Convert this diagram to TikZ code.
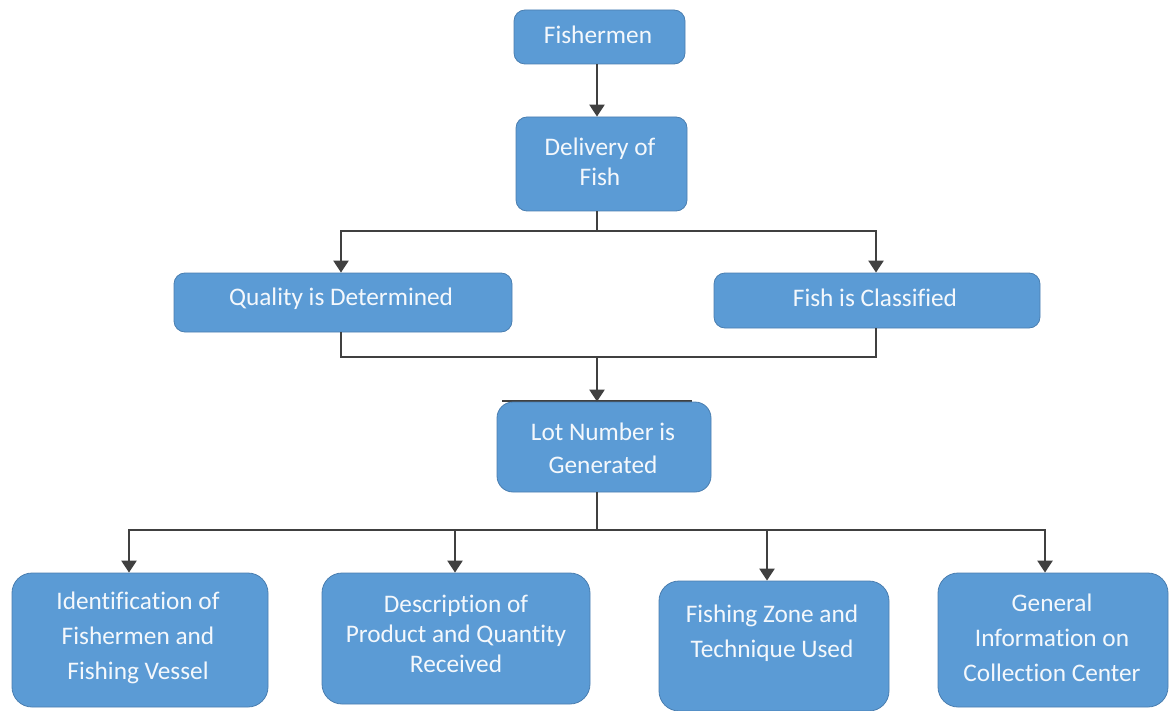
\documentclass[tikz,border=0pt]{standalone}
\usepackage{fontspec}
\setmainfont{Carlito}[Ligatures=NoCommon]
\usetikzlibrary{arrows.meta}
\definecolor{boxfill}{HTML}{5B9BD5}
\definecolor{boxedge}{HTML}{4A7EB0}
\definecolor{wire}{HTML}{404040}
\definecolor{label}{HTML}{F4F8FC}
\begin{document}
\begin{tikzpicture}[x=1pt,y=-1pt,
  box/.style={draw=boxedge,line width=0.8pt,fill=boxfill,rounded corners=#1,
    rectangle,inner sep=0pt},
  box/.default=11pt,
  txt/.style={text=label,font=\fontsize{25.3}{#1}\selectfont,align=center,inner sep=0pt},
  txt/.default=33,
  wireline/.style={draw=wire,line width=2.4pt},
  flow/.style={wireline,-{Triangle[width=15pt,length=12pt]}}]
\useasboundingbox (0,0) rectangle (1169,711);

% top chain
\node[box,minimum width=171pt,minimum height=54pt] (fish) at (599.5,37) {};
\node[txt] (fishT) at (598,35) {Fishermen};
\node[box,minimum width=171pt,minimum height=94pt] (deliv) at (601.5,164) {};
\node[txt=30] (delivT) at (600,162) {Delivery of\\Fish};

% second level
\node[box,minimum width=338pt,minimum height=59pt] (qual) at (343,302.5) {};
\node[txt] (qualT) at (341,299) {Quality is Determined};
\node[box,minimum width=326pt,minimum height=55pt] (cls) at (877,300.5) {};
\node[txt] (clsT) at (875,298) {Fish is Classified};

% lot number
\draw[wire,line width=1.6pt] (502,401) -- (692,401);
\node[box=16pt,minimum width=214pt,minimum height=90pt] (lot) at (604,447) {};
\node[txt=33] (lotT) at (603,448) {Lot Number is\\Generated};

% bottom row
\node[box=20pt,minimum width=256pt,minimum height=134pt] (ident) at (140,640) {};
\node[txt=35] (identT) at (138,638) {Identification of\\Fishermen and\\Fishing Vessel};
\node[box=20pt,minimum width=268pt,minimum height=131pt] (descr) at (456,638.5) {};
\node[txt=30] (descrT) at (456,634) {Description of\\Product and Quantity\\Received};
\node[box=20pt,minimum width=230pt,minimum height=130pt] (zone) at (774,646) {};
\node[txt=35] (zoneT) at (772,633.5) {Fishing Zone and\\Technique Used};
\node[box=20pt,minimum width=230pt,minimum height=134pt] (gen) at (1053,640) {};
\node[txt=35] (genT) at (1052,638) {General\\Information on\\Collection Center};

% junction points
\coordinate (s1) at (597,231);
\coordinate (m1) at (597,357);
\coordinate (s2) at (597,530);
\coordinate (aq) at (341,0);
\coordinate (ac) at (876,0);
\coordinate (a1) at (129,0);
\coordinate (a2) at (455,0);
\coordinate (a3) at (767,0);
\coordinate (a4) at (1045,0);

% connectors
\draw[flow] (fish.south -| s1) -- (deliv.north -| s1);
\draw[wireline] (deliv.south -| s1) -- (s1);
\draw[flow] (s1) -| (qual.north -| aq);
\draw[flow] (s1) -| (cls.north -| ac);
\draw[wireline] (qual.south -| aq) |- (m1);
\draw[wireline] (cls.south -| ac) |- (m1);
\draw[flow] (m1) -- (lot.north -| m1);
\draw[wireline] (lot.south -| s2) -- (s2);
\draw[flow] (s2) -| (ident.north -| a1);
\draw[flow] (s2) -| (descr.north -| a2);
\draw[flow] (s2) -| (zone.north -| a3);
\draw[flow] (s2) -| (gen.north -| a4);
\end{tikzpicture}
\end{document}
